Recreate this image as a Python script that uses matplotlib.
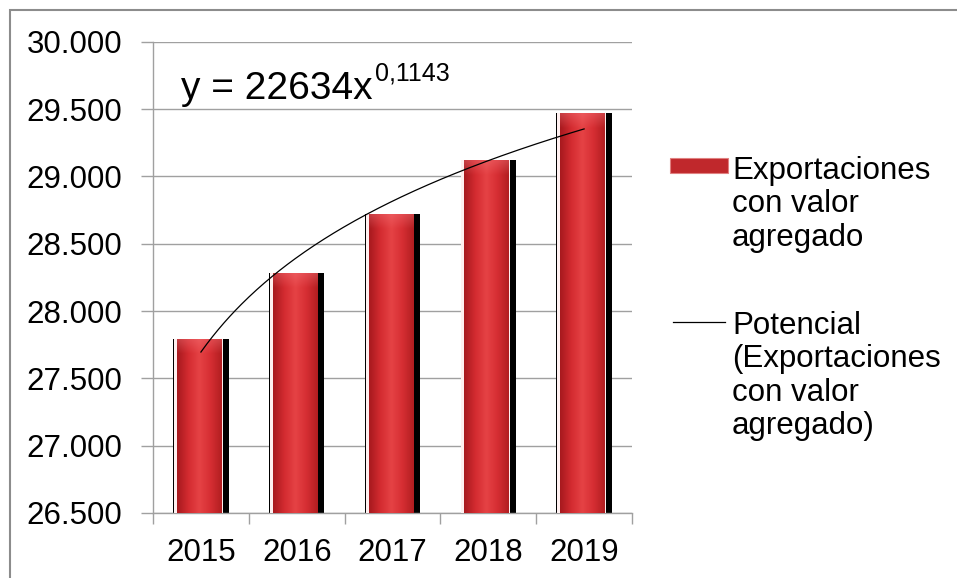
import matplotlib
matplotlib.use("Agg")
import matplotlib.pyplot as plt
from matplotlib.patches import Rectangle
from matplotlib.lines import Line2D
from matplotlib.ticker import FuncFormatter
import numpy as np

years = ["2015", "2016", "2017", "2018", "2019"]
values = [27790, 28280, 28720, 29120, 29470]
series_label = "Exportaciones\ncon valor\nagregado"
trend_label = "Potencial\n(Exportaciones\ncon valor\nagregado)"
eq_text = "y = 22634x"
eq_exp = "0,1143"

plt.rcParams['font.family'] = ['Liberation Sans', 'DejaVu Sans']

fig = plt.figure(figsize=(9.57, 5.78), dpi=100)
ax = fig.add_axes([0.1599, 0.1125, 0.5005, 0.8152])

# outer chart border (only top/left visible)
fig.patches.append(Rectangle((9.5 / 957, -0.1), 1.2, 1 - 9.5 / 578 + 0.1,
                             transform=fig.transFigure, fill=False,
                             edgecolor='#8c8c8c', linewidth=1.5))

idx = np.arange(len(years))

# gradient for the "cylinder" look
cols = np.array([
    [0.66, 0.10, 0.12],
    [0.83, 0.17, 0.19],
    [0.90, 0.26, 0.27],
    [0.84, 0.18, 0.20],
    [0.70, 0.12, 0.13],
])
nx, ny = 40, 200
xs = np.linspace(0, 1, nx)
prof = np.stack([np.interp(xs, np.linspace(0, 1, len(cols)), cols[:, k]) for k in range(3)], axis=-1)

for i, v in zip(idx, values):
    # black shadow + thin left line
    ax.bar(i + 0.0, v - 26500, width=0.58, bottom=26500, color='black', zorder=2)
    ax.bar(i - 0.027, v - 26500, width=0.507, bottom=26500, color='#fff0f0', zorder=3)
    left, right = i - 0.25, i + 0.215
    img = np.repeat(prof[None, :, :], ny, axis=0)
    h = v - 26500
    top_px = h * 0.13457
    frac = min(1.0, 14.0 / max(top_px, 1))
    ys = np.linspace(1, 0, ny)
    hl = np.clip((ys - (1 - frac)) / frac, 0, 1)[:, None, None]
    img = img * (1 - 0.35 * hl) + np.array([0.97, 0.50, 0.52]) * 0.35 * hl
    ax.imshow(img, extent=[left, right, 26500, v], aspect='auto', zorder=4,
              interpolation='bilinear')

# power trendline
b, lna = np.polyfit(np.log(idx + 1), np.log(values), 1)
xt = np.linspace(1, len(years), 200)
ax.plot(xt - 1, np.exp(lna) * xt ** b, color='black', linewidth=0.9, zorder=5)

ax.set_xlim(-0.5, len(years) - 0.5)
ax.set_ylim(26500, 30000)
ax.set_yticks(np.arange(26500, 30001, 500))
ax.yaxis.set_major_formatter(FuncFormatter(lambda y, p: f"{int(y):,}".replace(",", ".")))
ax.set_xticks(idx)
ax.set_xticklabels(years)
ax.set_xticks(np.arange(-0.5, len(years)), minor=True)
ax.tick_params(axis='x', which='major', length=0, pad=18, labelsize=22.5)
ax.tick_params(axis='x', which='minor', length=8, color='#a0a0a0', width=1)
ax.tick_params(axis='y', length=9, color='#a0a0a0', width=1, pad=13, labelsize=22.5)
ax.grid(axis='y', color='#a0a0a0', linewidth=1, zorder=0)
ax.set_axisbelow(True)
for s in ['top', 'right']:
    ax.spines[s].set_visible(False)
for s in ['left', 'bottom']:
    ax.spines[s].set_color('#a0a0a0')
    ax.spines[s].set_linewidth(1)

# equation label
t = fig.text(181 / 957, 1 - 99 / 578, eq_text, fontsize=28, ha='left', va='baseline')
fig.canvas.draw()
bb = t.get_window_extent()
fig.text(bb.x1 / 957 + 0.002, 1 - 80 / 578, eq_exp, fontsize=18, ha='left', va='baseline')

# legend drawn by hand
fig.patches.append(Rectangle((670 / 957, 1 - 173 / 578), 58 / 957, 15 / 578,
                             transform=fig.transFigure, facecolor='#c0282c',
                             edgecolor='#e08080', linewidth=0.8))
fig.text(732 / 957, 1 - 156 / 578, series_label, fontsize=22.5, ha='left', va='top',
         linespacing=1.15)
fig.lines.append(Line2D([673 / 957, 725 / 957], [1 - 322 / 578, 1 - 322 / 578],
                        transform=fig.transFigure, color='black', linewidth=0.9))
fig.text(732 / 957, 1 - 311 / 578, trend_label, fontsize=22.5, ha='left', va='top',
         linespacing=1.15)

fig.savefig("out.png", dpi=100)
